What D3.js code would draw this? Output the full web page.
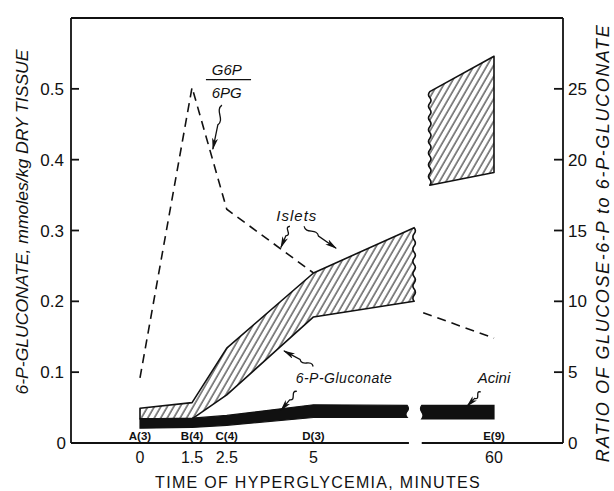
<!DOCTYPE html>
<html>
<head>
<meta charset="utf-8">
<script src="https://cdn.jsdelivr.net/npm/d3@7"></script>
<style>
  body { margin: 0; background: #fff; }
  text { font-family: "Liberation Sans", Arial, sans-serif; fill: #111; }
</style>
</head>
<body>
<div id="chart"></div>
<script>
// axis ticks
const tickTimes = [0, 1.5, 2.5, 5, 60];
const tickLabels = ["0", "1.5", "2.5", "5", "60"];
const groupLabels = ["A(3)", "B(4)", "C(4)", "D(3)", "E(9)"];
const gluconateTicks = [0.1, 0.2, 0.3, 0.4, 0.5];
const ratioTicks = [5, 10, 15, 20, 25];

// islets 6-P-gluconate (hatched band)
const isletTimes = [0, 1.5, 2.5, 5, 7.9];
const isletLow = [0.034, 0.034, 0.068, 0.178, 0.2];
const isletHigh = [0.049, 0.057, 0.134, 0.24, 0.304];

// acini 6-P-gluconate (black band)
const aciniTimes = [0, 1.5, 2.5, 5, 7.7];
const aciniLow = [0.021, 0.022, 0.025, 0.036, 0.036];
const aciniHigh = [0.034, 0.035, 0.039, 0.054, 0.053];
const aciniLateTimes = [50.1, 60];
const aciniLateLow = [0.034, 0.034];
const aciniLateHigh = [0.053, 0.053];

// G6P / 6PG ratio
const ratioTimes = [0, 1.5, 2.5, 5];
const ratioValues = [4.6, 25.1, 16.5, 12.0];
const ratioLateTimes = [50.3, 60];
const ratioLateValues = [9.2, 7.4];
const ratioBoxTimes = [51.2, 60];
const ratioBoxLow = [18.2, 19.1];
const ratioBoxHigh = [24.8, 27.3];

const width = 614, height = 491;
const axisLeft = 71, axisRight = 563;

const svg = d3.select("#chart").append("svg")
  .attr("width", width).attr("height", height);

// broken time axis: 0..8 min, then a gap, then 50..60 min
const x = d3.scaleLinear().domain([0, 8, 50, 60]).range([140, 417.6, 421, 494]);
const y = d3.scaleLinear().domain([0, 0.6]).range([443, 18]);
const yR = d3.scaleLinear().domain([0, 30]).range([443, 18]);

const defs = svg.append("defs");
defs.append("pattern")
  .attr("id", "hatch")
  .attr("patternUnits", "userSpaceOnUse")
  .attr("width", 5.6).attr("height", 10)
  .attr("patternTransform", "rotate(30)")
  .append("line")
  .attr("x1", 1).attr("y1", 0).attr("x2", 1).attr("y2", 10)
  .attr("stroke", "#111").attr("stroke-width", 1);

defs.append("marker")
  .attr("id", "head")
  .attr("viewBox", "0 0 12 6")
  .attr("refX", 11).attr("refY", 3)
  .attr("markerWidth", 12).attr("markerHeight", 6)
  .attr("markerUnits", "userSpaceOnUse")
  .attr("orient", "auto")
  .append("path")
  .attr("d", "M0,0 L12,3 L0,6 L3,3 Z")
  .attr("fill", "#111");

// wavy break edge between two points on the same vertical
function wave(p, xPos, y0, y1, amp) {
  const n = Math.max(2, Math.round(Math.abs(y1 - y0) / 6));
  const step = (y1 - y0) / n;
  for (let i = 0; i < n; i++) {
    const ya = y0 + step * i;
    p.quadraticCurveTo(xPos + (i % 2 ? -amp : amp), ya + step / 2, xPos, ya + step);
  }
}

function bandPath(times, low, high, sy, waveLeft, waveRight) {
  const p = d3.path();
  const n = times.length;
  p.moveTo(x(times[0]), sy(high[0]));
  for (let i = 1; i < n; i++) p.lineTo(x(times[i]), sy(high[i]));
  if (waveRight) wave(p, x(times[n - 1]), sy(high[n - 1]), sy(low[n - 1]), 2.5);
  else p.lineTo(x(times[n - 1]), sy(low[n - 1]));
  for (let i = n - 2; i >= 0; i--) p.lineTo(x(times[i]), sy(low[i]));
  if (waveLeft) wave(p, x(times[0]), sy(low[0]), sy(high[0]), 2.5);
  p.closePath();
  return p.toString();
}

// ratio dashed line
const ratioLine = d3.line().x(d => x(d[0])).y(d => yR(d[1]));
[d3.zip(ratioTimes, ratioValues), d3.zip(ratioLateTimes, ratioLateValues)].forEach(seg => {
  svg.append("path")
    .attr("d", ratioLine(seg))
    .attr("fill", "none")
    .attr("stroke", "#111")
    .attr("stroke-width", 1.6)
    .attr("stroke-dasharray", "9,6");
});

// hatched bands
function hatched(d) {
  svg.append("path").attr("d", d).attr("fill", "#fff");
  svg.append("path").attr("d", d)
    .attr("fill", "url(#hatch)")
    .attr("stroke", "#111").attr("stroke-width", 1.6)
    .attr("stroke-linejoin", "round");
}
hatched(bandPath(isletTimes, isletLow, isletHigh, y, false, true));
hatched(bandPath(ratioBoxTimes, ratioBoxLow, ratioBoxHigh, yR, true, false));

// black acini bands
[
  bandPath(aciniTimes, aciniLow, aciniHigh, y, false, true),
  bandPath(aciniLateTimes, aciniLateLow, aciniLateHigh, y, true, false)
].forEach(d => {
  svg.append("path").attr("d", d)
    .attr("fill", "#111").attr("stroke", "#111").attr("stroke-width", 1.2);
});

// axes frame
const frame = svg.append("g").attr("stroke", "#111").attr("stroke-width", 1.8).attr("fill", "none");
frame.append("line").attr("x1", axisLeft).attr("x2", axisLeft).attr("y1", y(0)).attr("y2", y(0.6));
frame.append("line").attr("x1", axisRight).attr("x2", axisRight).attr("y1", y(0)).attr("y2", y(0.6));
frame.append("line").attr("x1", axisLeft).attr("x2", axisRight).attr("y1", y(0.6)).attr("y2", y(0.6));
frame.append("line").attr("x1", axisLeft).attr("x2", x(7.75)).attr("y1", y(0)).attr("y2", y(0));
frame.append("line").attr("x1", x(50.1)).attr("x2", axisRight).attr("y1", y(0)).attr("y2", y(0));

// left ticks (inward)
gluconateTicks.forEach(v => {
  frame.append("line").attr("x1", axisLeft).attr("x2", axisLeft + 8).attr("y1", y(v)).attr("y2", y(v));
});
svg.selectAll("text.ytick")
  .data([0].concat(gluconateTicks))
  .enter().append("text")
  .attr("class", "ytick")
  .attr("x", d => d === 0 ? 66 : 64)
  .attr("y", d => y(d))
  .attr("dy", "0.36em")
  .attr("text-anchor", "end")
  .attr("font-size", "17px")
  .text(d => d === 0 ? "0" : d3.format(".1f")(d));

// right ticks (inward)
ratioTicks.forEach(v => {
  frame.append("line").attr("x1", axisRight - 9).attr("x2", axisRight).attr("y1", yR(v)).attr("y2", yR(v));
});
svg.selectAll("text.rtick")
  .data([0].concat(ratioTicks))
  .enter().append("text")
  .attr("class", "rtick")
  .attr("x", 568)
  .attr("y", d => yR(d))
  .attr("dy", "0.36em")
  .attr("font-size", "17px")
  .text(d => d);

// x tick labels and group labels
svg.selectAll("text.xtick")
  .data(tickTimes)
  .enter().append("text")
  .attr("class", "xtick")
  .attr("x", d => x(d))
  .attr("y", 463)
  .attr("text-anchor", "middle")
  .attr("font-size", "16px")
  .text((d, i) => tickLabels[i]);

svg.selectAll("text.group")
  .data(tickTimes)
  .enter().append("text")
  .attr("class", "group")
  .attr("x", d => x(d))
  .attr("y", 440)
  .attr("text-anchor", "middle")
  .attr("font-size", "11.5px")
  .attr("font-weight", "bold")
  .text((d, i) => groupLabels[i]);

// axis titles
svg.append("text")
  .attr("x", 318).attr("y", 488)
  .attr("text-anchor", "middle")
  .attr("font-size", "16px")
  .attr("letter-spacing", "1.3px")
  .text("TIME OF HYPERGLYCEMIA, MINUTES");

svg.append("text")
  .attr("transform", "translate(28,222) rotate(-90)")
  .attr("text-anchor", "middle")
  .attr("font-size", "16px")
  .attr("font-style", "italic")
  .attr("textLength", 345)
  .attr("lengthAdjust", "spacingAndGlyphs")
  .text("6-P-GLUCONATE, mmoles/kg DRY TISSUE");

svg.append("text")
  .attr("transform", "translate(609,243) rotate(-90)")
  .attr("text-anchor", "middle")
  .attr("font-size", "18px")
  .attr("font-style", "italic")
  .attr("letter-spacing", "1.6px")
  .text("RATIO OF GLUCOSE-6-P to 6-P-GLUCONATE");

// annotations (positions in data units)
function label(t, v, txt, size) {
  return svg.append("text")
    .attr("x", x(t)).attr("y", y(v))
    .attr("text-anchor", "middle")
    .attr("font-size", size)
    .attr("font-style", "italic")
    .text(txt);
}
function squiggle(t0, v0, t1, v1) {
  const sx = x(t0), sy = y(v0), ex = x(t1), ey = y(v1);
  const dx = ex - sx, dy = ey - sy;
  const L = Math.hypot(dx, dy), ux = dx / L, uy = dy / L, nx = -uy, ny = ux;
  const p = d3.path();
  p.moveTo(sx, sy);
  const mx = sx + dx * 0.45, my = sy + dy * 0.45;
  p.bezierCurveTo(sx + dx * 0.15 + nx * 6, sy + dy * 0.15 + ny * 6,
                  sx + dx * 0.3 - nx * 6, sy + dy * 0.3 - ny * 6, mx, my);
  p.lineTo(ex, ey);
  svg.append("path")
    .attr("d", p.toString())
    .attr("fill", "none").attr("stroke", "#111").attr("stroke-width", 1.3)
    .attr("marker-end", "url(#head)");
}

label(2.5, 0.52, "G6P", "15px");
svg.append("line")
  .attr("x1", x(1.9)).attr("x2", x(3.2))
  .attr("y1", y(0.513)).attr("y2", y(0.513))
  .attr("stroke", "#111").attr("stroke-width", 1.4);
label(2.5, 0.487, "6PG", "15px");
squiggle(2.36, 0.477, 2.1, 0.415);

label(4.52, 0.313, "Islets", "15px").attr("letter-spacing", "1px");
squiggle(4.32, 0.306, 4.06, 0.276);
squiggle(4.73, 0.306, 5.65, 0.275);

label(5.88, 0.085, "6-P-Gluconate", "14px").attr("letter-spacing", "0.5px");
squiggle(4.99, 0.108, 4.15, 0.13);
squiggle(4.52, 0.073, 4.06, 0.046);

label(60, 0.085, "Acini", "15px");
squiggle(58.2, 0.072, 56.3, 0.052);
</script>
</body>
</html>
